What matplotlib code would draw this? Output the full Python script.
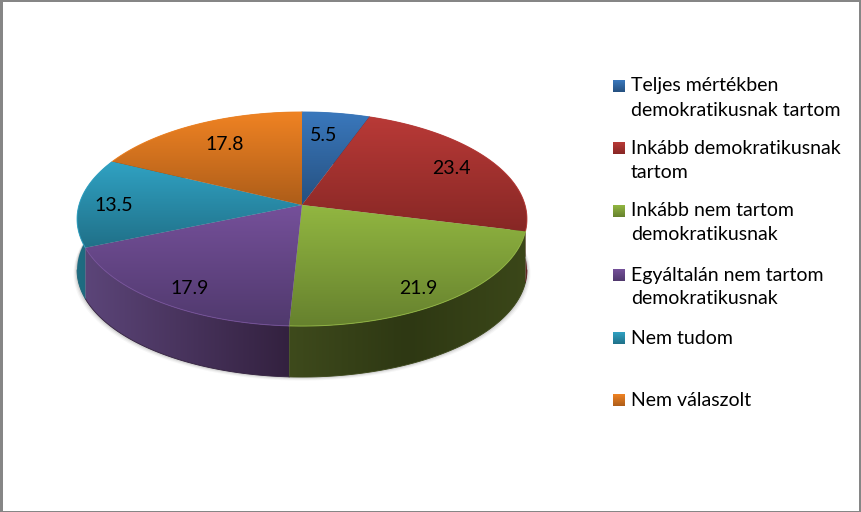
import numpy as np
import matplotlib
matplotlib.use('Agg')
import matplotlib.pyplot as plt
from matplotlib.colors import LinearSegmentedColormap
from matplotlib.patches import Polygon, Rectangle

plt.rcParams['font.family'] = ['Lato', 'DejaVu Sans']

values = [5.5, 23.4, 21.9, 17.9, 13.5, 17.8]
labels = ['Teljes mértékben\ndemokratikusnak tartom',
          'Inkább demokratikusnak\ntartom',
          'Inkább nem tartom\ndemokratikusnak',
          'Egyáltalán nem tartom\ndemokratikusnak',
          'Nem tudom',
          'Nem válaszolt']

# top face gradient, light to dark going down
top_colors = [('#3a78bd', '#25507f'), ('#b93a37', '#872725'), ('#92b741', '#66812e'),
              ('#75509a', '#50396d'), ('#30a2c3', '#207088'), ('#f08323', '#ad5d19')]
# side wall, left to right
side_colors = [('#1c3a5c', '#1c3a5c'), ('#5c1b1a', '#5c1b1a'), ('#3e4a1c', '#2e3813', '#3b4719'),
               ('#5c4579', '#33213f'), ('#1f6c82', '#1d6679'), ('#7d4412', '#7d4412')]
label_radius = [0.62, 0.8, 0.8, 0.8, 0.85, 0.75]
label_shift = [(0, -10), (-1, 1), (0, 9.5), (0, 8), (1, 3), (5, 1)]
legend_y = [86, 148, 211, 275, 338, 400]

# apex of the pie and the perspective of the disc, in pixels
cx, cy = 302, 205
rad_x, rad_y = 223, 105.2
persp = 0.131
depth = 51
front_a = np.pi / 2 + np.arcsin(persp)
front_b = 3 * np.pi / 2 - np.arcsin(persp)


def disc(theta, r=1.0):
    w = 1 + persp * r * np.cos(theta)
    return cx + rad_x * r * np.sin(theta) / w, cy - rad_y * r * np.cos(theta) / w


def gradient_fill(ax, poly, colors, horizontal=False, zorder=2):
    cmap = LinearSegmentedColormap.from_list('g', colors)
    x0, x1 = poly[:, 0].min(), poly[:, 0].max()
    y0, y1 = poly[:, 1].min(), poly[:, 1].max()
    g = np.linspace(0, 1, 256)
    g = g[None, :] if horizontal else g[:, None]
    im = ax.imshow(g, cmap=cmap, extent=(x0, x1, y1, y0), aspect='auto', zorder=zorder)
    patch = Polygon(poly, closed=True, transform=ax.transData)
    im.set_clip_path(patch)
    return im


fig = plt.figure(figsize=(8.62, 5.12), dpi=100)
ax = fig.add_axes([0, 0, 1, 1])

ends = np.cumsum(values) / np.sum(values) * 2 * np.pi
starts = np.r_[0, ends[:-1]]

# soft shadow under the pie
t = np.linspace(0, 2 * np.pi, 400)
ox, oy = disc(t)
for grow, alpha in [(3.5, 0.05), (2.5, 0.08), (1.5, 0.12), (0.5, 0.16)]:
    ax.add_patch(Polygon(np.c_[cx + (ox - cx) * (1 + grow / 223), oy + depth + grow], closed=True,
                         fc='#555555', ec='none', alpha=alpha, zorder=1))

# side walls first, top faces go over them
for i in range(len(values)):
    t = np.linspace(starts[i], ends[i], 120)
    x, y = disc(t)
    side = np.r_[np.c_[x, y], np.c_[x, y + depth][::-1]]
    gradient_fill(ax, side, side_colors[i], horizontal=True, zorder=2)
    a = max(starts[i], front_a)
    b = min(ends[i], front_b)
    if a < b:
        x, y = disc(np.linspace(a, b, 80))
        ax.plot(x, y + depth, color=side_colors[i][-1], lw=0.6, zorder=2.1)

# top faces
for i in range(len(values)):
    t = np.linspace(starts[i], ends[i], 120)
    x, y = disc(t)
    face = np.r_[[[cx, cy]], np.c_[x, y]]
    gradient_fill(ax, face, top_colors[i], zorder=3)
    ax.plot(x, y, color=top_colors[i][0], lw=0.7, zorder=3.5, alpha=0.9)

# value labels
for i, v in enumerate(values):
    mid = (starts[i] + ends[i]) / 2
    lx, ly = disc(mid, label_radius[i])
    ax.text(lx + label_shift[i][0], ly + label_shift[i][1], str(v), ha='center', va='center',
            fontsize=14, color='black', zorder=5)

# legend
for i, lab in enumerate(labels):
    y = legend_y[i]
    sq = np.array([[613, y - 6], [625, y - 6], [625, y + 6], [613, y + 6]])
    gradient_fill(ax, sq, (top_colors[i][0], top_colors[i][1]), zorder=4)
    ax.text(631, y - 8.5, lab, ha='left', va='top', fontsize=14, color='black',
            linespacing=1.5, zorder=5)

ax.set_xlim(0, 862)
ax.set_ylim(512, 0)
ax.axis('off')

# chart frame
for r in [(0, 0, 3, 512), (0, 0, 862, 2), (859, 0, 3, 512), (0, 510.8, 862, 1.2)]:
    ax.add_patch(Rectangle((r[0], r[1]), r[2], r[3], fc='#868686', ec='none', zorder=6))

fig.savefig('out.png', dpi=100)
